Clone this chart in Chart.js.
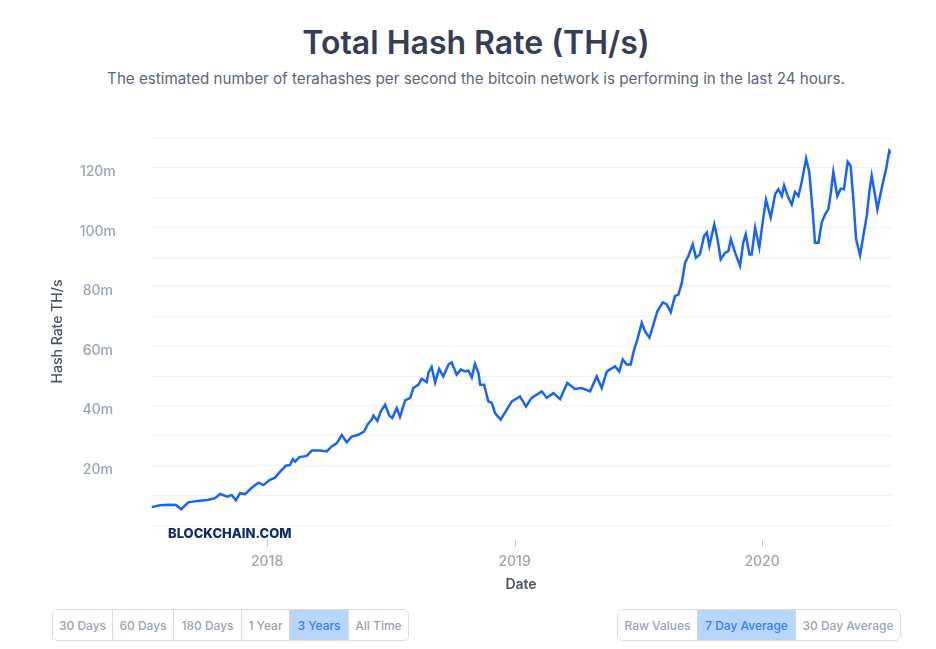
<!DOCTYPE html>
<html lang="en">
<head>
    <meta charset="UTF-8">
    <title>Total Hash Rate (TH/s)</title>
    <script src="https://cdn.jsdelivr.net/npm/chart.js@4.4.1/dist/chart.umd.min.js"></script>
    <style>
        body {
            margin: 0;
            width: 936px;
            height: 649px;
            position: relative;
            font-family: Inter, "Noto Sans", sans-serif;
            background: #fff;
            overflow: hidden;
        }
        h1 {
            position: absolute;
            top: 23px;
            left: 16px;
            width: 920px;
            margin: 0;
            text-align: center;
            font-size: 32px;
            line-height: 40px;
            font-weight: 600;
            color: #353e55;
        }
        #subtitle {
            position: absolute;
            top: 69px;
            left: 16px;
            width: 920px;
            text-align: center;
            font-size: 15.2px;
            line-height: 20px;
            color: #5d657b;
        }
        #chartBox {
            position: absolute;
            top: 100px;
            left: 0;
        }
        .group {
            position: absolute;
            top: 609px;
            display: flex;
            border: 1px solid #d6dae3;
            border-radius: 6px;
            overflow: hidden;
            height: 30px;
        }
        .group button {
            box-sizing: border-box;
            height: 30px;
            padding: 0;
            border: none;
            border-right: 1px solid #d6dae3;
            background: #fff;
            color: #9aa2b6;
            font-family: Inter, sans-serif;
            font-size: 12px;
            font-weight: 500;
            cursor: pointer;
        }
        .group button:last-child {
            border-right: none;
        }
        .group button.active {
            background: #b7d6fb;
            color: #3b7cf0;
        }
    </style>
</head>
<body>
    <h1>Total Hash Rate (TH/s)</h1>
    <div id="subtitle">The estimated number of terahashes per second the bitcoin network is performing in the last 24 hours.</div>

    <div id="chartBox">
        <canvas id="hashChart" width="936" height="500"></canvas>
    </div>

    <div class="group" style="left: 52px;">
        <button style="width: 60px;">30 Days</button>
        <button style="width: 61px;">60 Days</button>
        <button style="width: 68px;">180 Days</button>
        <button style="width: 48px;">1 Year</button>
        <button style="width: 59px;" class="active">3 Years</button>
        <button style="width: 59px;">All Time</button>
    </div>
    <div class="group" style="left: 617px;">
        <button style="width: 80px;">Raw Values</button>
        <button style="width: 98px;" class="active">7 Day Average</button>
        <button style="width: 104px;">30 Day Average</button>
    </div>

    <script>
        // dates as decimal years, values in millions of TH/s (7 day average)
        const years = [
            2017.534, 2017.568, 2017.601, 2017.632, 2017.653, 2017.682, 2017.722, 2017.763, 2017.790, 2017.810,
            2017.840, 2017.857, 2017.874, 2017.891, 2017.911, 2017.938, 2017.965, 2017.985, 2018.012, 2018.032,
            2018.053, 2018.076, 2018.093, 2018.104, 2018.113, 2018.131, 2018.160, 2018.181, 2018.214, 2018.241,
            2018.261, 2018.282, 2018.302, 2018.322, 2018.342, 2018.369, 2018.392, 2018.407, 2018.423, 2018.430,
            2018.446, 2018.459, 2018.477, 2018.494, 2018.506, 2018.524, 2018.537, 2018.558, 2018.578, 2018.591,
            2018.611, 2018.625, 2018.645, 2018.652, 2018.665, 2018.679, 2018.695, 2018.712, 2018.733, 2018.746,
            2018.766, 2018.783, 2018.800, 2018.813, 2018.827, 2018.840, 2018.854, 2018.861, 2018.877, 2018.894,
            2018.908, 2018.921, 2018.944, 2018.968, 2018.989, 2019.022, 2019.046, 2019.069, 2019.110, 2019.130,
            2019.157, 2019.184, 2019.213, 2019.244, 2019.271, 2019.305, 2019.332, 2019.352, 2019.373, 2019.406,
            2019.423, 2019.437, 2019.453, 2019.469, 2019.483, 2019.496, 2019.514, 2019.527, 2019.545, 2019.561,
            2019.577, 2019.599, 2019.615, 2019.631, 2019.648, 2019.662, 2019.676, 2019.689, 2019.702, 2019.720,
            2019.733, 2019.749, 2019.766, 2019.777, 2019.787, 2019.807, 2019.819, 2019.833, 2019.851, 2019.864,
            2019.874, 2019.891, 2019.911, 2019.924, 2019.934, 2019.949, 2019.958, 2019.972, 2019.989, 2020.003,
            2020.016, 2020.035, 2020.053, 2020.066, 2020.080, 2020.089, 2020.106, 2020.120, 2020.133, 2020.147,
            2020.160, 2020.178, 2020.191, 2020.205, 2020.214, 2020.228, 2020.241, 2020.255, 2020.268, 2020.278,
            2020.288, 2020.304, 2020.318, 2020.331, 2020.346, 2020.358, 2020.369, 2020.380, 2020.396, 2020.409,
            2020.423, 2020.434, 2020.443, 2020.457, 2020.466, 2020.477, 2020.490, 2020.501, 2020.514, 2020.521
        ];
        const hashRate = [
            6.0, 6.6, 6.8, 6.7, 5.3, 7.6, 8.1, 8.5, 9.0, 10.4,
            9.5, 10.1, 8.3, 10.7, 10.4, 12.5, 14.2, 13.4, 15.2, 15.9,
            17.9, 19.9, 20.2, 22.1, 21.3, 22.8, 23.2, 25.0, 25.0, 24.7,
            26.4, 27.5, 30.2, 27.8, 29.7, 30.3, 31.4, 33.9, 35.4, 36.7,
            35.0, 38.1, 40.4, 36.7, 35.9, 39.3, 36.3, 41.9, 42.7, 46.0,
            47.1, 49.1, 48.0, 51.1, 53.1, 47.9, 52.4, 49.9, 53.9, 54.6,
            50.5, 52.2, 51.6, 51.9, 49.6, 54.1, 51.1, 47.1, 47.1, 41.5,
            41.0, 37.6, 35.4, 38.7, 41.5, 43.2, 39.8, 42.7, 44.9, 42.7,
            44.3, 42.3, 47.7, 45.7, 46.0, 44.9, 49.9, 46.0, 51.6, 53.3,
            51.6, 55.6, 53.9, 53.9, 58.9, 62.3, 67.9, 65.1, 62.9, 67.3,
            71.8, 74.8, 74.1, 71.5, 76.9, 77.4, 81.4, 88.1, 90.3, 94.3,
            89.8, 90.9, 97.1, 98.2, 93.7, 101.0, 96.5, 89.2, 91.5, 92.0,
            96.0, 91.5, 87.0, 94.8, 97.6, 90.9, 90.9, 99.9, 93.2, 102.1,
            109.2, 103.3, 111.1, 112.8, 110.5, 114.1, 110.0, 107.7, 111.9, 110.5,
            115.1, 123.1, 118.4, 104.9, 94.8, 94.8, 101.6, 104.4, 106.1, 111.7,
            118.6, 110.5, 113.0, 112.8, 122.0, 120.6, 109.4, 96.0, 90.6, 97.1,
            103.8, 112.2, 117.3, 110.5, 106.1, 110.5, 115.6, 119.5, 125.7, 124.9
        ];
        const tickYears = [2018, 2019, 2020];

        const points = years.map((yr, i) => ({ x: yr, y: hashRate[i] }));

        // small x tick marks + watermark below the plot
        const extras = {
            id: 'extras',
            afterDraw(chart) {
                const ctx = chart.ctx;
                const area = chart.chartArea;
                const xs = chart.scales.x;
                ctx.save();
                ctx.strokeStyle = '#c9cdd7';
                ctx.lineWidth = 1;
                tickYears.forEach(v => {
                    const px = Math.round(xs.getPixelForValue(v)) + 0.5;
                    ctx.beginPath();
                    ctx.moveTo(px, area.bottom + 15);
                    ctx.lineTo(px, area.bottom + 22);
                    ctx.stroke();
                });
                ctx.fillStyle = '#0d2a6b';
                ctx.font = '800 13px Inter, sans-serif';
                ctx.textBaseline = 'middle';
                ctx.fillText('BLOCKCHAIN.COM', area.left + 17, area.bottom + 9);
                ctx.restore();
            }
        };

        new Chart(document.getElementById('hashChart'), {
            type: 'line',
            data: {
                datasets: [{
                    label: 'Hash Rate',
                    data: points,
                    borderColor: '#1764f6',
                    borderWidth: 2.5,
                    pointRadius: 0,
                    tension: 0,
                    fill: false
                }]
            },
            options: {
                responsive: false,
                animation: false,
                layout: {
                    padding: { top: 38, right: 45, left: 45, bottom: 5 }
                },
                plugins: {
                    legend: { display: false },
                    tooltip: { enabled: false }
                },
                scales: {
                    x: {
                        type: 'linear',
                        min: 2017.531,
                        max: 2020.521,
                        afterBuildTicks: axis => {
                            axis.ticks = tickYears.map(v => ({ value: v }));
                        },
                        afterFit: axis => { axis.height = 70; },
                        grid: { display: false, drawTicks: false },
                        border: { display: false },
                        ticks: {
                            padding: 28,
                            color: '#9aa2b6',
                            font: { family: 'Inter', size: 14, weight: '500' },
                            callback: v => String(v)
                        },
                        title: {
                            display: true,
                            text: 'Date',
                            color: '#4b5369',
                            font: { family: 'Inter', size: 14, weight: '600' },
                            padding: { top: 4, bottom: 2 }
                        }
                    },
                    y: {
                        min: 0,
                        max: 130,
                        afterFit: axis => {
                            axis.width = 106;
                            axis.paddingTop = 0;
                            axis.paddingBottom = 0;
                        },
                        grid: {
                            color: '#eff1f5',
                            drawTicks: false
                        },
                        border: { display: false },
                        ticks: {
                            stepSize: 10,
                            padding: 35,
                            crossAlign: 'center',
                            labelOffset: 4,
                            color: '#9aa2b6',
                            font: { family: 'Inter', size: 14, weight: '500' },
                            callback: v => (v > 0 && v % 20 === 0) ? v + 'm' : ''
                        },
                        title: {
                            display: true,
                            text: 'Hash Rate TH/s',
                            color: '#4b5369',
                            font: { family: 'Inter', size: 14, weight: '500' },
                            padding: { top: 4, bottom: 4 }
                        }
                    }
                }
            },
            plugins: [extras]
        });
    </script>
</body>
</html>
